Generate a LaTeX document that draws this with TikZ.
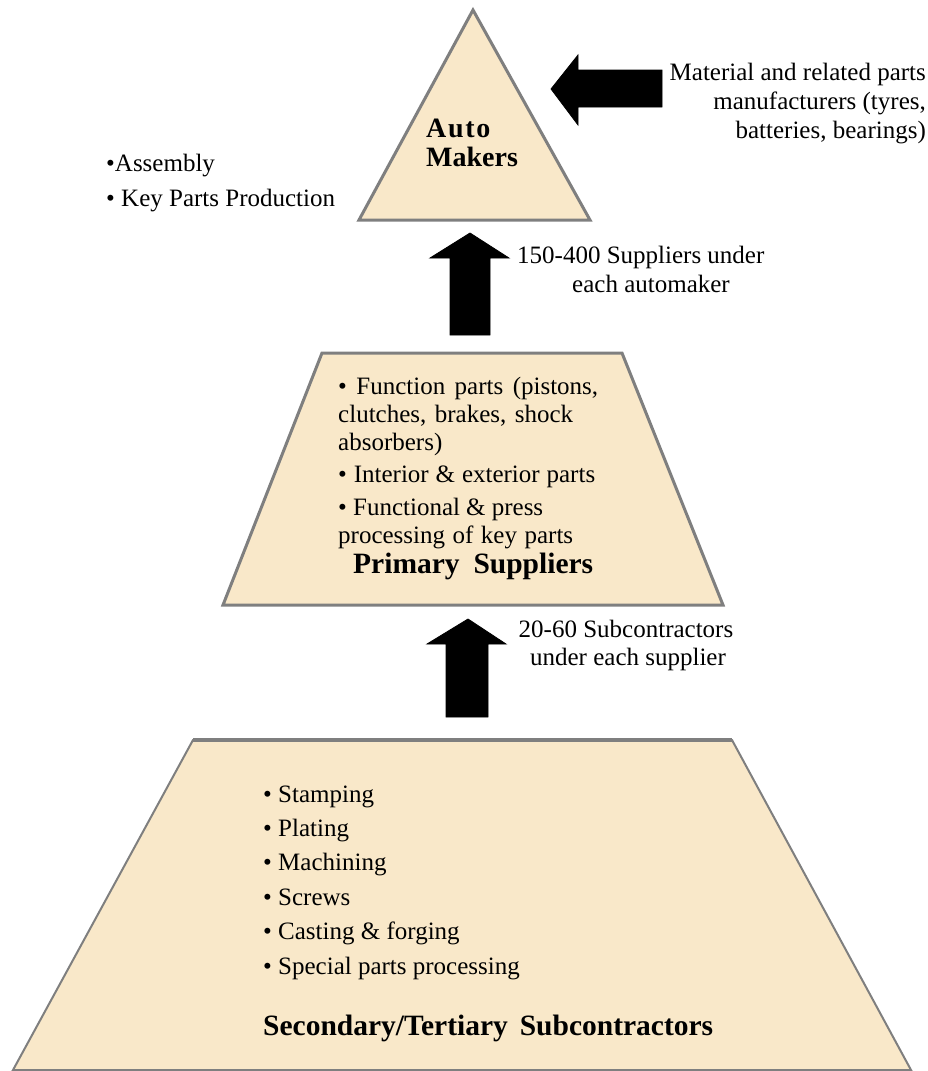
\documentclass[tikz,border=0pt]{standalone}
\usepackage{fontspec}
\setmainfont{Liberation Serif}
\definecolor{parch}{HTML}{F9E8C9}
\definecolor{rim}{HTML}{7F7F7F}
\tikzset{
  tier/.style={fill=parch, draw=rim, line width=3pt, line join=miter},
  blockarrow/.style={fill=black, draw=black, line width=0.8pt, line join=miter},
  txt/.style={inner sep=0pt, font=\fontsize{25}{29}\selectfont},
  ttl/.style={inner sep=0pt, font=\fontsize{28}{32}\selectfont\bfseries},
  bigttl/.style={inner sep=0pt, font=\fontsize{29.5}{33}\selectfont\bfseries}
}
\begin{document}
\begin{tikzpicture}[x=1pt,y=-1pt]
  \useasboundingbox (0,0) rectangle (928,1071);

  % Tiers of the pyramid
  \draw[tier] (473,10) -- (590,220) -- (359,220) -- cycle;
  \draw[tier] (322,353) -- (622,353) -- (723,605) -- (223,605) -- cycle;
  \draw[tier, line width=2pt] (193,740) -- (732,740) -- (911,1070) -- (13,1070) -- cycle;
  \draw[rim, line width=4pt] (193,740) -- (732,740);

  % Block arrows
  \coordinate (inTip) at (551,89);
  \coordinate (upTipA) at (470,233);
  \coordinate (upTipB) at (468,619);
  \fill[blockarrow] (inTip) -- ++(27,-34) -- ++(0,15) -- ++(84,0) -- ++(0,37)
    -- ++(-84,0) -- ++(0,18) -- cycle;
  \fill[blockarrow] (upTipA) -- ++(39,25) -- ++(-19,0) -- ++(0,77) -- ++(-40,0)
    -- ++(0,-77) -- ++(-20,0) -- cycle;
  \fill[blockarrow] (upTipB) -- ++(38,25) -- ++(-18,0) -- ++(0,73) -- ++(-42,0)
    -- ++(0,-73) -- ++(-19,0) -- cycle;

  % Auto makers
  \node[ttl, anchor=base west] (auto) at (426,137) {\addfontfeature{LetterSpace=6}Auto};
  \node[ttl, anchor=base west] (makers) at (426,166) {Makers};
  \node[txt, anchor=base west] (assy) at (106,171) {•Assembly};
  \node[txt, anchor=base west] (keyp) at (106,206) {• Key Parts Production};
  \node[txt, anchor=base east] (mat1) at (926,80) {Material and related parts};
  \node[txt, anchor=base east] (mat2) at (926,109) {manufacturers (tyres,};
  \node[txt, anchor=base east] (mat3) at (926,138) {batteries, bearings)};

  % Primary suppliers
  \node[txt, anchor=base west] (sup1) at (517,263) {150-400 Suppliers under};
  \node[txt, anchor=base] (sup2) at (651,292) {each automaker};
  \node[txt, anchor=base west] (fn1) at (338,394) {\makebox[260pt][s]{• Function parts (pistons,}};
  \node[txt, anchor=base west] (fn2) at (338,422) {\makebox[235pt][s]{clutches, brakes, shock}};
  \node[txt, anchor=base west] (fn3) at (338,450) {absorbers)};
  \node[txt, anchor=base west] (ie) at (338,482) {\makebox[257pt][s]{• Interior \& exterior parts}};
  \node[txt, anchor=base west] (pr1) at (338,515) {\makebox[205pt][s]{• Functional \& press}};
  \node[txt, anchor=base west] (pr2) at (338,543) {\makebox[235pt][s]{processing of key parts}};
  \node[bigttl, anchor=base west] (prim) at (353,573) {\makebox[240pt][s]{Primary\ \ Suppliers}};

  % Subcontractors
  \node[txt, anchor=base] (sub1) at (626,637) {20-60 Subcontractors};
  \node[txt, anchor=base] (sub2) at (628,665) {under each supplier};
  \foreach \item [count=\i from 0] in {Stamping, Plating, Machining, Screws,
      Casting \& forging, Special parts processing}
    \node[txt, anchor=base west] (job\i) at (263,802+34.4*\i) {• \item};
  \node[bigttl, anchor=base west] (sec) at (263,1035)
    {\makebox[450pt][s]{Secondary/Tertiary\ \ Subcontractors}};
\end{tikzpicture}
\end{document}
